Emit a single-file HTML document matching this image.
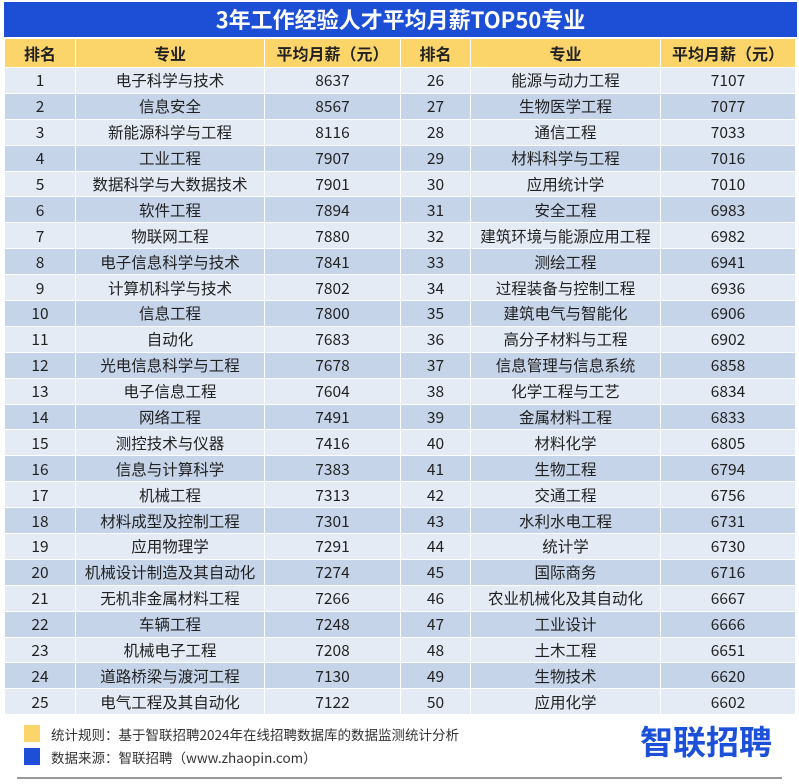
<!DOCTYPE html>
<html><head><meta charset="utf-8"><style>
body{margin:0;width:799px;height:784px;background:#fff;position:relative;overflow:hidden;font-family:"Noto Sans CJK SC","Liberation Sans",sans-serif;}
#title{position:absolute;left:4px;top:2px;width:793px;height:35px;background:#1c4fd6;color:#fff;font-weight:bold;font-size:22px;text-align:center;line-height:35px;}
table{position:absolute;left:4px;top:38px;border-collapse:collapse;table-layout:fixed;}
td,th{border:1.5px solid #fff;text-align:center;padding:0;font-size:15.5px;color:#222;white-space:nowrap;vertical-align:middle;line-height:20px;}
tbody tr{height:25.9px;}
thead tr{height:29px;}
th{background:#fcd56a;font-weight:bold;font-size:16px;}
tr.a td{background:#e4ebf5;}
tr.b td{background:#c6d4ea;}
.foot{position:absolute;left:51px;font-size:13.5px;color:#333;line-height:18px;}
.sq{position:absolute;left:24px;width:16px;height:17px;}
#logo{position:absolute;left:640px;top:718px;font-size:33px;font-weight:bold;color:#1d50d8;line-height:44px;}
#line{position:absolute;left:17px;top:777px;width:765px;height:2px;background:#999;}
</style></head><body>
<div id="title">3年工作经验人才平均月薪TOP50专业</div>
<table>
<colgroup><col style="width:71px"><col style="width:189px"><col style="width:136px"><col style="width:70px"><col style="width:190px"><col style="width:135px"></colgroup>
<thead><tr><th>排名</th><th>专业</th><th>平均月薪（元）</th><th>排名</th><th>专业</th><th>平均月薪（元）</th></tr></thead>
<tbody id="tb"></tbody>
</table>
<div class="sq" style="top:725px;background:#fcd56a"></div>
<div class="foot" style="top:725px">统计规则：基于智联招聘2024年在线招聘数据库的数据监测统计分析</div>
<div class="sq" style="top:748px;background:#1c4fd6"></div>
<div class="foot" style="top:748px">数据来源：智联招聘（www.zhaopin.com）</div>
<div id="logo">智联招聘</div>
<div id="line"></div>
<script>
const majors=["电子科学与技术","信息安全","新能源科学与工程","工业工程","数据科学与大数据技术","软件工程","物联网工程","电子信息科学与技术","计算机科学与技术","信息工程","自动化","光电信息科学与工程","电子信息工程","网络工程","测控技术与仪器","信息与计算科学","机械工程","材料成型及控制工程","应用物理学","机械设计制造及其自动化","无机非金属材料工程","车辆工程","机械电子工程","道路桥梁与渡河工程","电气工程及其自动化","能源与动力工程","生物医学工程","通信工程","材料科学与工程","应用统计学","安全工程","建筑环境与能源应用工程","测绘工程","过程装备与控制工程","建筑电气与智能化","高分子材料与工程","信息管理与信息系统","化学工程与工艺","金属材料工程","材料化学","生物工程","交通工程","水利水电工程","统计学","国际商务","农业机械化及其自动化","工业设计","土木工程","生物技术","应用化学"];
const salaries=[8637,8567,8116,7907,7901,7894,7880,7841,7802,7800,7683,7678,7604,7491,7416,7383,7313,7301,7291,7274,7266,7248,7208,7130,7122,7107,7077,7033,7016,7010,6983,6982,6941,6936,6906,6902,6858,6834,6833,6805,6794,6756,6731,6730,6716,6667,6666,6651,6620,6602];
const tb=document.getElementById('tb');
for(let i=0;i<25;i++){
  const tr=document.createElement('tr');
  tr.className=i%2?'b':'a';
  
  
  [i,i+25].forEach(j=>{
    [String(j+1),majors[j],String(salaries[j])].forEach(v=>{
      const td=document.createElement('td');td.textContent=v;
      
      
      tr.appendChild(td);
    });
  });
  tb.appendChild(tr);
}
</script>
</body></html>
